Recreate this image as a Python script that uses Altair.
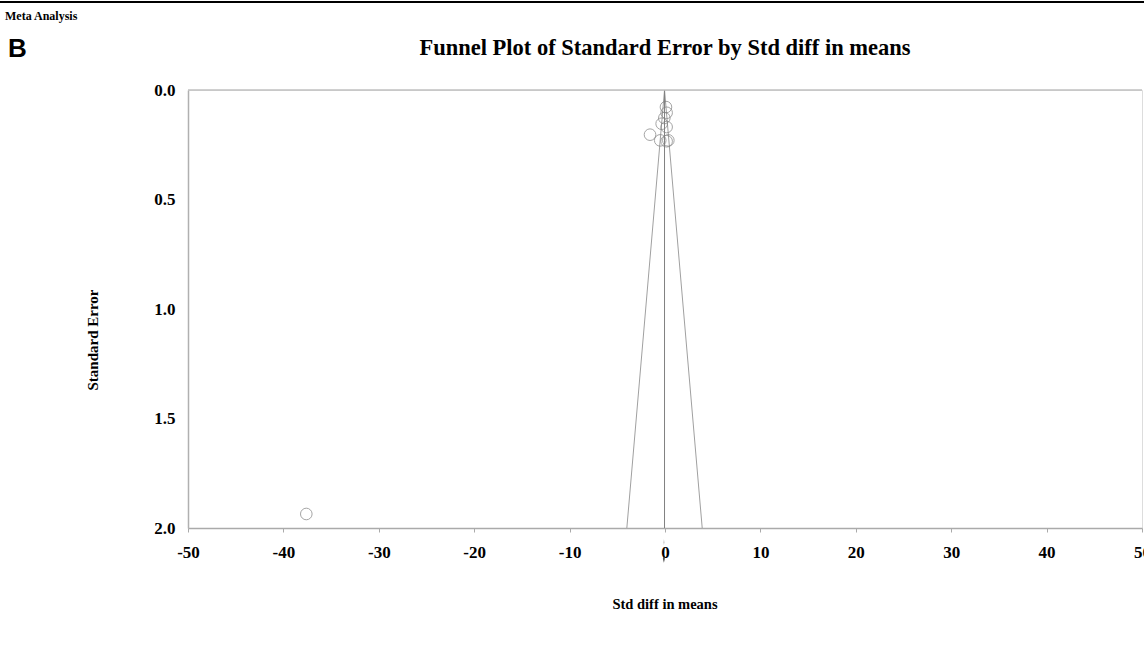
import altair as alt
import pandas as pd

# Study points: std diff in means vs standard error
study_diff = [0.10, 0.17, -0.07, -0.35, -1.57, 0.17, -0.50, 0.17, 0.35, -37.6]
study_se = [0.078, 0.104, 0.128, 0.154, 0.204, 0.169, 0.230, 0.234, 0.230, 1.936]

# Funnel (pseudo 95% limits) and pooled mean
funnel_x = [-4.0, -0.05, 3.9]
funnel_se = [2.0, 0.0, 2.0]
mean_diff = -0.05

# Combined-effect diamonds drawn below the axis
diamond_x = [-0.12, -0.12]
diamond_se = [2.065, 2.14]
diamond_kind = ["observed", "imputed"]

x_ticks = [-50, -40, -30, -20, -10, 0, 10, 20, 30, 40, 50]
y_ticks = [0.0, 0.5, 1.0, 1.5, 2.0]

W, H = 954, 438
SERIF = "Liberation Serif"

xs = alt.Scale(domain=[-50, 50], nice=False, zero=False)
ys = alt.Scale(domain=[0, 2], reverse=True, nice=False)

pts = pd.DataFrame({"x": study_diff, "se": study_se})
fun = pd.DataFrame({"x": funnel_x, "se": funnel_se, "o": [0, 1, 2]})
mean_df = pd.DataFrame({"x": [mean_diff], "se0": [0.0], "se1": [2.0]})
dia = pd.DataFrame({"x": diamond_x, "se": diamond_se, "kind": diamond_kind})

xaxis = alt.Axis(values=x_ticks, labelExpr="toString(datum.value)", labelFont=SERIF,
                 labelFontWeight="bold", labelFontSize=17, labelColor="black",
                 labelPadding=12, tickSize=4, tickColor="#aaaaaa", domainColor="#aaaaaa",
                 domainWidth=1.5, grid=False, title=None, labelFlush=False)
yaxis = alt.Axis(values=y_ticks, format=".1f", labelFont=SERIF, labelFontWeight="bold",
                 labelFontSize=17, labelColor="black", labelPadding=13, ticks=False,
                 domainColor="#b0b0b0", domainWidth=1.5, grid=False, title=None)

base_pts = alt.Chart(pts).mark_point(shape="circle", filled=False, size=135,
                                     color="#808080", strokeWidth=1, clip=False).encode(
    x=alt.X("x:Q", scale=xs, axis=xaxis),
    y=alt.Y("se:Q", scale=ys, axis=yaxis),
)

funnel = alt.Chart(fun).mark_line(color="#a0a0a0", strokeWidth=1).encode(
    x=alt.X("x:Q", scale=xs), y=alt.Y("se:Q", scale=ys), order="o:Q")

mean_line = alt.Chart(mean_df).mark_rule(color="#808080", strokeWidth=1).encode(
    x=alt.X("x:Q", scale=xs), y=alt.Y("se0:Q", scale=ys), y2="se1:Q")

diamonds = alt.Chart(dia).mark_point(
    shape="M0,-1L0.25,0L0,1L-0.25,0Z", filled=True, clip=False, strokeWidth=0.5).encode(
    x=alt.X("x:Q", scale=xs), y=alt.Y("se:Q", scale=ys),
    size=alt.Size("kind:N", scale=alt.Scale(domain=["observed", "imputed"], range=[36, 64]), legend=None),
    color=alt.Color("kind:N", scale=alt.Scale(domain=["observed", "imputed"], range=["#c0c0c0", "#000000"]), legend=None),
)

ann = pd.DataFrame({"a": [0]})
top_border = alt.Chart(ann).mark_rule(color="#c0c0c0", strokeWidth=1.5).encode(
    x=alt.value(0), x2=alt.value(W), y=alt.value(0))
page_line = alt.Chart(ann).mark_rule(color="black", strokeWidth=2).encode(
    x=alt.value(-188), x2=alt.value(W + 2), y=alt.value(-88))

def label(text, x, y, size, font=SERIF, angle=0, align="center", baseline="alphabetic"):
    return alt.Chart(ann).mark_text(text=text, font=font, fontSize=size, fontWeight="bold",
                                    color="black", angle=angle, align=align,
                                    baseline=baseline).encode(x=alt.value(x), y=alt.value(y))

title = label("Funnel Plot of Standard Error by Std diff in means", W / 2, -35, 22.5)
meta = label("Meta Analysis", -183, -70, 12, align="left")
letter_b = label("B", -180, -33, 26, font="Liberation Sans", align="left")
ytitle = label("Standard Error", -95, H / 2 + 31, 15, angle=270, baseline="middle")
xtitle = label("Std diff in means", W / 2, 515, 14.5, baseline="middle")

chart = alt.layer(funnel, mean_line, base_pts, diamonds, top_border, page_line,
                  title, meta, letter_b, ytitle, xtitle).properties(
    width=W, height=H,
    autosize=alt.AutoSizeParams(type="none"),
    padding={"left": 188, "top": 90, "right": 2, "bottom": 118},
).configure_view(stroke=None).configure(background="white")

chart.save("out.html", embed_options={"renderer": "svg", "actions": False})
